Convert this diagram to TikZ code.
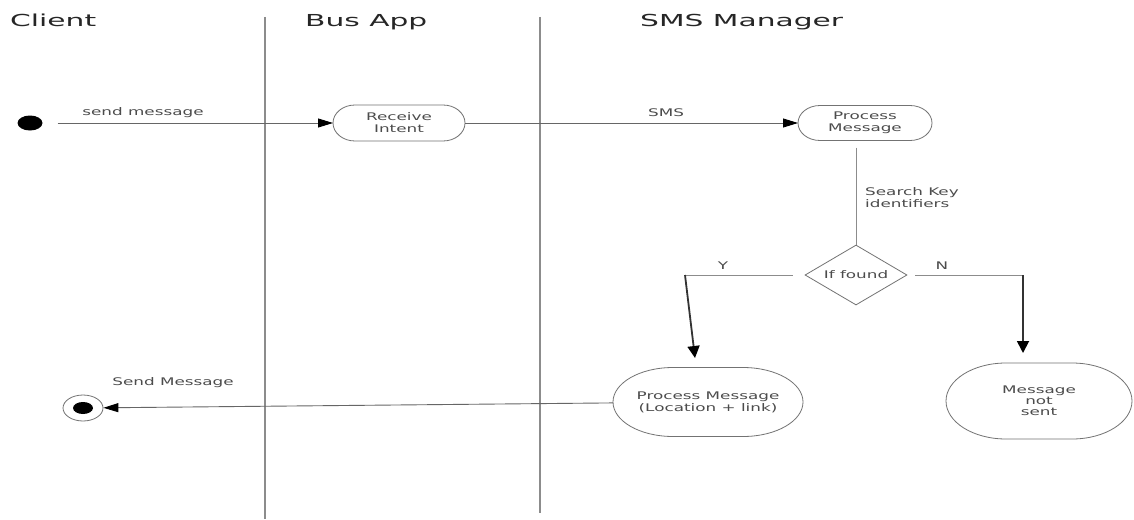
\documentclass[tikz,border=0pt]{standalone}
\usepackage{fontspec}
\newfontfamily\titlefont[FakeStretch=1.8]{DejaVu Sans}
\newfontfamily\lblfont[FakeStretch=1.6]{DejaVu Sans}
\usetikzlibrary{arrows.meta,shapes.geometric,calc}
\tikzset{
  lbl/.style={font=\lblfont\fontsize{10.5pt}{12pt}\selectfont, text=black!70, inner sep=0pt},
  title/.style={font=\titlefont\fontsize{16.5pt}{20pt}\selectfont, text=black!85, inner sep=0pt},
  act/.style={rectangle, inner sep=0pt, outer sep=0pt, align=center,
    font=\lblfont\fontsize{10.5pt}{12pt}\selectfont, text=black!70},
  outl/.style={draw=black!55, line width=0.8pt},
  conn/.style={draw=black!60, line width=0.9pt, -{Triangle[length=15pt,width=9pt,black]}},
  lane/.style={draw=black!45, line width=2pt},
  branch/.style={draw=black!45, line width=0.9pt},
  drop/.style={draw=black!80, line width=1.8pt, -{Triangle[length=12pt,width=12pt,black]}},
}
\newcommand\softoutline[3]{%
  \draw[outl] ($(#1.north west)+(#2,0)$) -- ($(#1.north east)+(-#2,0)$)
    arc[start angle=90,end angle=0,x radius=#2,y radius=#3]
    -- ($(#1.south east)+(0,#3)$)
    arc[start angle=0,end angle=-90,x radius=#2,y radius=#3]
    -- ($(#1.south west)+(#2,0)$)
    arc[start angle=-90,end angle=-180,x radius=#2,y radius=#3]
    -- ($(#1.north west)+(0,-#3)$)
    arc[start angle=180,end angle=90,x radius=#2,y radius=#3] -- cycle;}
\begin{document}
\begin{tikzpicture}[x=1pt,y=1pt]
\useasboundingbox[fill=white] (0,0) rectangle (1134,-519);

% swimlane titles and dividers
\node[title, anchor=base west] (tclient) at (10,-27) {Client};
\node[title, anchor=base west] (tbus) at (305,-27) {Bus App};
\node[title, anchor=base west] (tsms) at (640,-27) {SMS Manager};
\draw[lane] (265,-17) -- (265,-519);
\draw[lane] (540,-17) -- (540,-513);

% nodes
\node[fill=black, ellipse, minimum width=25pt, minimum height=15pt, inner sep=0pt] (start) at (30,-123) {};
\node[act, minimum width=132pt, minimum height=36pt] (ri) at (399,-123) {Receive\\Intent};
\node[act, minimum width=134pt, minimum height=35pt] (pm) at (865,-123) {Process\\Message};
\node[diamond, draw=black!55, line width=0.8pt, aspect=1.7, minimum width=102pt, minimum height=60pt,
  inner sep=0pt, font=\lblfont\fontsize{10.5pt}{12pt}\selectfont, text=black!70] (dec) at (856,-275) {If found};
\node[act, minimum width=190pt, minimum height=69pt] (pml) at (708,-402) {Process Message\\(Location + link)};
\node[act, minimum width=186pt, minimum height=76pt, font=\lblfont\fontsize{10.5pt}{11pt}\selectfont] (mns) at (1039,-401) {Message\\not\\sent};
\node[draw=black!55, line width=0.8pt, ellipse, minimum width=40pt, minimum height=26pt, inner sep=0pt,
  path picture={\fill[black] (path picture bounding box.center) ellipse [x radius=10pt, y radius=6pt];}] (end) at (83,-408) {};

\softoutline{ri}{22}{18}
\softoutline{pm}{22}{17.5}
\softoutline{pml}{60}{34.5}
\softoutline{mns}{60}{38}

% connectors
\draw[conn, shorten <=15pt] (start) -- (ri);
\draw[conn] (ri) -- (pm);
\draw[branch, shorten <=7pt] (pm.south -| dec.north) -- (dec.north);

\coordinate (ncorner) at (1023,-275);
\coordinate (nend) at (1023,-353);
\draw[branch, shorten <=8pt] (dec.east) -- (ncorner);
\draw[drop] (ncorner) -- (nend);

\coordinate (ycorner) at (685,-275);
\coordinate (yend) at (695,-358);
\draw[branch, shorten <=12pt] (dec.west) -- (ycorner);
\draw[drop] (ycorner) -- (yend);

\draw[conn] (pml) -- (end);

% labels
\node[lbl] (lsend) at (143,-113) {send message};
\node[lbl] (lsms) at (666,-113) {SMS};
\node[lbl, anchor=west, align=left] (lsearch) at (865,-198) {Search Key\\identifiers};
\node[lbl] (ly) at (723,-266) {Y};
\node[lbl] (ln) at (942,-266) {N};
\node[lbl] (lsendm) at (173,-383) {Send Message};
\end{tikzpicture}
\end{document}
